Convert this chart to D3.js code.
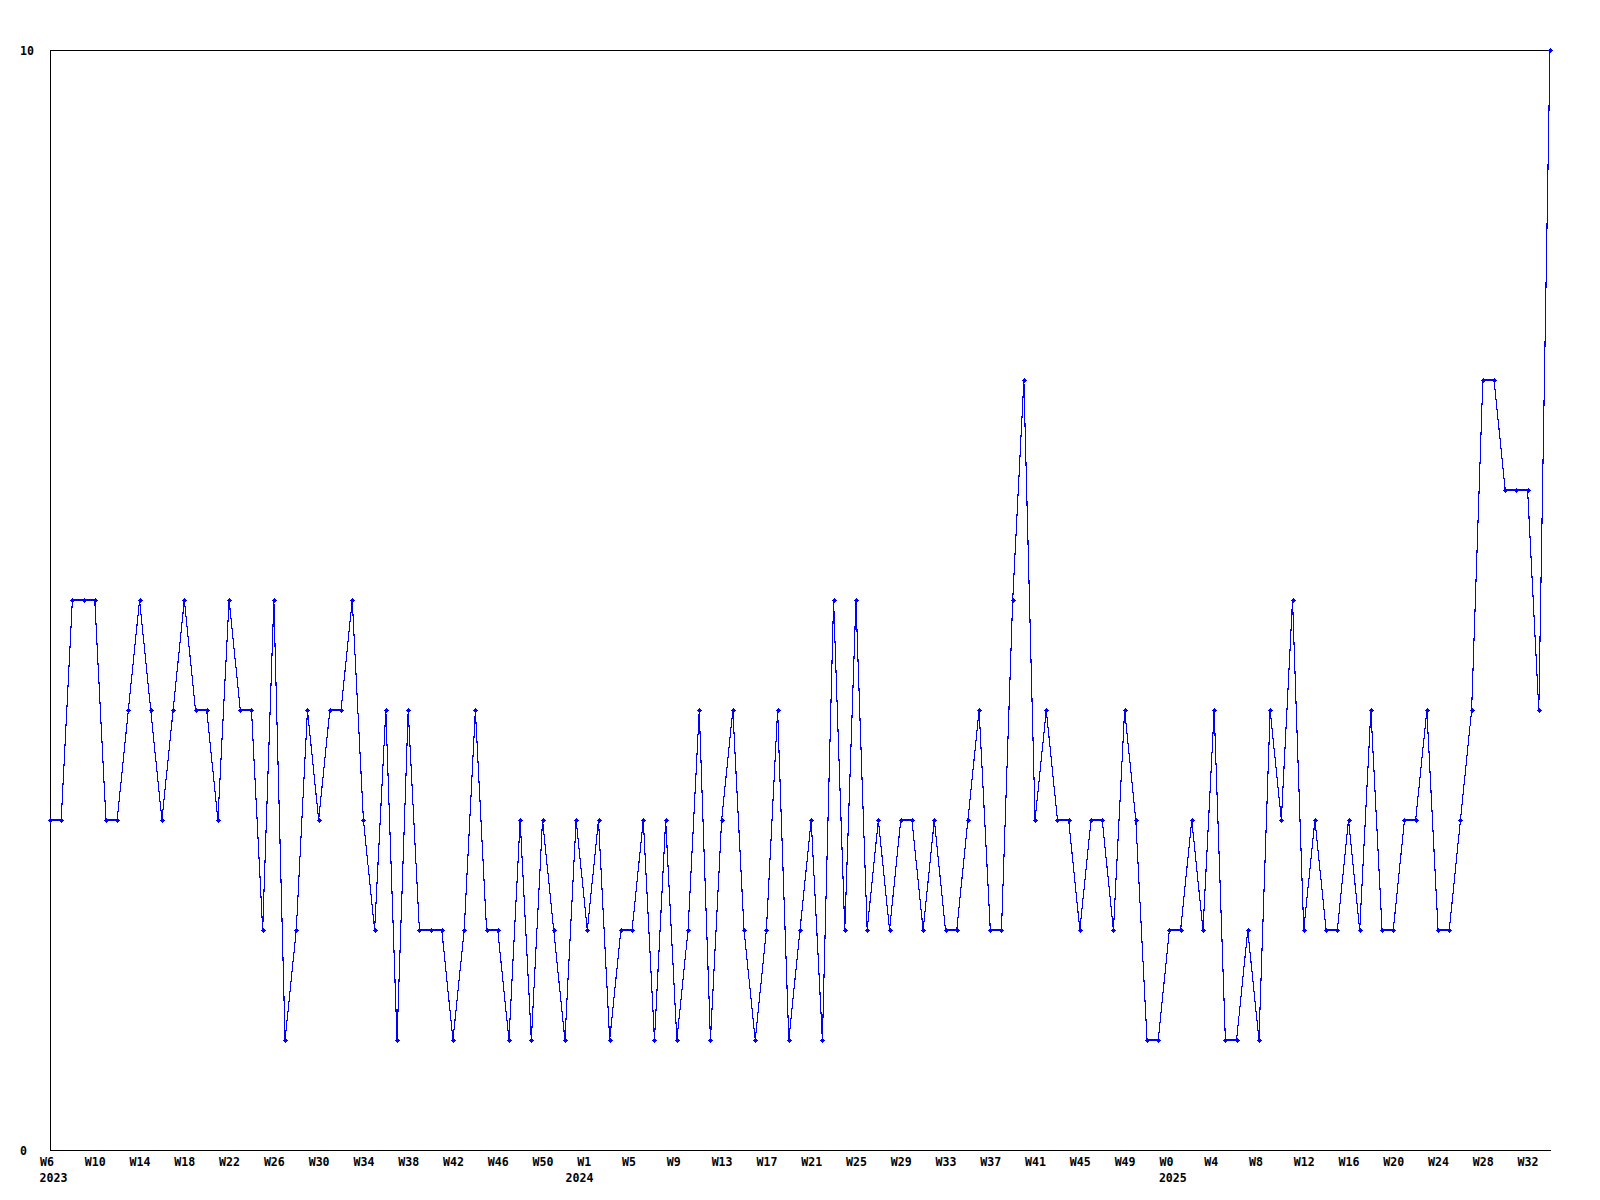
<!DOCTYPE html>
<html>
<head>
<meta charset="utf-8">
<script src="https://cdn.jsdelivr.net/npm/d3@7"></script>
<style>
  html, body { margin: 0; padding: 0; background: #fff; }
  svg { display: block; }
  text { font-family: "DejaVu Sans Mono", "Liberation Mono", monospace; font-weight: bold; font-size: 11.6px; fill: #000; }
</style>
</head>
<body>
<svg id="chart" width="1600" height="1200"></svg>
<script>
// Week categories (year, week label) for each point
const categories = [
  "2023-W6","2023-W7","2023-W8","2023-W9","2023-W10","2023-W11","2023-W12","2023-W13","2023-W14","2023-W15",
  "2023-W16","2023-W17","2023-W18","2023-W19","2023-W20","2023-W21","2023-W22","2023-W23","2023-W24","2023-W25",
  "2023-W26","2023-W27","2023-W28","2023-W29","2023-W30","2023-W31","2023-W32","2023-W33","2023-W34","2023-W35",
  "2023-W36","2023-W37","2023-W38","2023-W39","2023-W40","2023-W41","2023-W42","2023-W43","2023-W44","2023-W45",
  "2023-W46","2023-W47","2023-W48","2023-W49","2023-W50","2023-W51","2023-W52",
  "2024-W0","2024-W1","2024-W2","2024-W3","2024-W4","2024-W5","2024-W6","2024-W7","2024-W8","2024-W9",
  "2024-W10","2024-W11","2024-W12","2024-W13","2024-W14","2024-W15","2024-W16","2024-W17","2024-W18","2024-W19",
  "2024-W20","2024-W21","2024-W22","2024-W23","2024-W24","2024-W25","2024-W26","2024-W27","2024-W28","2024-W29",
  "2024-W30","2024-W31","2024-W32","2024-W33","2024-W34","2024-W35","2024-W36","2024-W37","2024-W38","2024-W39",
  "2024-W40","2024-W41","2024-W42","2024-W43","2024-W44","2024-W45","2024-W46","2024-W47","2024-W48","2024-W49",
  "2024-W50","2024-W51","2024-W52",
  "2025-W0","2025-W1","2025-W2","2025-W3","2025-W4","2025-W5","2025-W6","2025-W7","2025-W8","2025-W9",
  "2025-W10","2025-W11","2025-W12","2025-W13","2025-W14","2025-W15","2025-W16","2025-W17","2025-W18","2025-W19",
  "2025-W20","2025-W21","2025-W22","2025-W23","2025-W24","2025-W25","2025-W26","2025-W27","2025-W28","2025-W29",
  "2025-W30","2025-W31","2025-W32","2025-W33","2025-W34"
];

// Series values
const values = [
  3,3,5,5,5,3,3,4,5,4,
  3,4,5,4,4,3,5,4,4,2,
  5,1,2,4,3,4,4,5,3,2,
  4,1,4,2,2,2,1,2,4,2,
  2,1,3,1,3,2,1,3,2,3,
  1,2,2,3,1,3,1,2,4,1,
  3,4,2,1,2,4,1,2,3,1,
  5,2,5,2,3,2,3,3,2,3,
  2,2,3,4,2,2,5,7,3,4,
  3,3,2,3,3,2,4,3,1,1,
  2,2,3,2,4,1,1,2,1,4,
  3,5,2,3,2,2,3,2,4,2,
  2,3,3,4,2,2,3,4,7,7,
  6,6,6,4,10
];

// Tick labels
const xTickCategories = [
  "2023-W6","2023-W10","2023-W14","2023-W18","2023-W22","2023-W26","2023-W30","2023-W34","2023-W38","2023-W42","2023-W46","2023-W50",
  "2024-W1","2024-W5","2024-W9","2024-W13","2024-W17","2024-W21","2024-W25","2024-W29","2024-W33","2024-W37","2024-W41","2024-W45","2024-W49",
  "2025-W0","2025-W4","2025-W8","2025-W12","2025-W16","2025-W20","2025-W24","2025-W28","2025-W32"
];
const yearLabelCategories = ["2023-W6", "2024-W0", "2025-W0"];
const yearLabels = ["2023", "2024", "2025"];
const yTickValues = [0, 10];

const svg = d3.select("#chart");
const plotLeft = 50, plotRight = 1550, plotTop = 50, plotBottom = 1150;

const x = d3.scalePoint().domain(categories).range([plotLeft, plotRight]);
const y = d3.scaleLinear().domain([0, 10]).range([plotBottom, plotTop]);

// top frame line
svg.append("line")
  .attr("x1", plotLeft).attr("x2", plotRight + 0.5)
  .attr("y1", plotTop + 0.5).attr("y2", plotTop + 0.5)
  .attr("stroke", "#000").attr("stroke-width", 1)
  .attr("shape-rendering", "crispEdges");

// x axis
const xAxis = d3.axisBottom(x)
  .tickValues(xTickCategories)
  .tickSize(0).tickSizeOuter(0)
  .tickFormat(d => d.split("-")[1]);
const gx = svg.append("g").attr("transform", `translate(0,${plotBottom})`).call(xAxis);
gx.select(".domain").attr("stroke", "#000").attr("shape-rendering", "crispEdges");
gx.selectAll(".tick text")
  .attr("text-anchor", "start")
  .attr("x", -10.5)
  .attr("y", 16)
  .attr("dy", null)
  .style("font-family", "'DejaVu Sans Mono', monospace")
  .style("font-weight", "bold")
  .style("font-size", "11.6px")
  .attr("fill", "#000");

// year labels
svg.append("g").selectAll("text")
  .data(yearLabelCategories)
  .join("text")
  .attr("x", d => x(d) - 10.5)
  .attr("y", plotBottom + 32)
  .attr("text-anchor", "start")
  .text((d, i) => yearLabels[i]);

// y axis
const yAxis = d3.axisLeft(y).tickValues(yTickValues).tickSize(0).tickSizeOuter(0).tickFormat(d3.format("d"));
const gy = svg.append("g").attr("transform", `translate(${plotLeft},0)`).call(yAxis);
gy.select(".domain").attr("stroke", "#000").attr("shape-rendering", "crispEdges");
gy.selectAll(".tick text")
  .attr("text-anchor", "start")
  .attr("x", 20 - plotLeft)
  .attr("dy", "0.36em")
  .style("font-family", "'DejaVu Sans Mono', monospace")
  .style("font-weight", "bold")
  .style("font-size", "11.6px")
  .attr("fill", "#000");

// line
const line = d3.line()
  .x((d, i) => x(categories[i]))
  .y(d => y(d));
svg.append("path")
  .datum(values)
  .attr("d", line)
  .attr("fill", "none")
  .attr("stroke", "#0000ff")
  .attr("stroke-width", 1.1)
  .attr("shape-rendering", "crispEdges");

// markers
const markerPath = "M-2.5,-0.5h5v1h-5z M-0.5,-2.5h1v5h-1z M-1.5,-1.5h3v3h-3z";
svg.append("g").selectAll("path")
  .data(values)
  .join("path")
  .attr("transform", (d, i) => `translate(${Math.round(x(categories[i])) + 0.5},${Math.round(y(d)) + 0.5})`)
  .attr("d", markerPath)
  .attr("fill", "#0000ff")
  .attr("shape-rendering", "crispEdges");
</script>
</body>
</html>
